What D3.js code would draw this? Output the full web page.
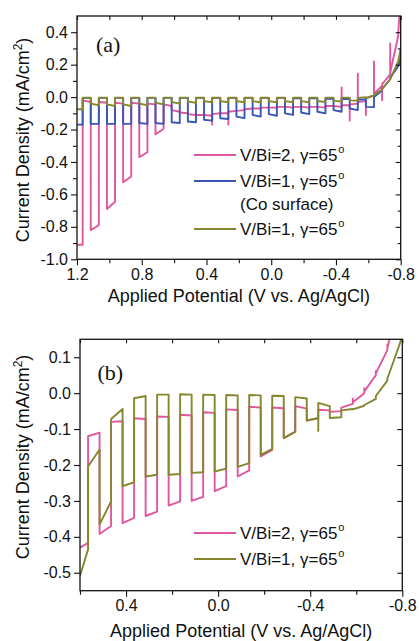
<!DOCTYPE html>
<html><head><meta charset="utf-8">
<script src="https://cdn.jsdelivr.net/npm/d3@7"></script>
<style>
html,body{margin:0;padding:0;background:#fff;}
svg{display:block;font-family:"Liberation Sans",Arial,Helvetica,sans-serif;}
</style></head><body>
<svg id="chart" width="419" height="641"></svg>
<script>
// ---------- Panel (a): chopped-light scans, light toggled every 0.05 V ----------
const chopA = [1.2, 1.165, 1.115, 1.065, 1.015, 0.965, 0.915, 0.865, 0.815, 0.765, 0.715,
  0.665, 0.615, 0.565, 0.515, 0.465, 0.415, 0.365, 0.315, 0.265, 0.215, 0.165, 0.115,
  0.065, 0.015, -0.035, -0.085, -0.135, -0.185, -0.235, -0.285, -0.335, -0.385, -0.435,
  -0.485, -0.535, -0.585, -0.635, -0.685, -0.735, -0.785, -0.8];

// current density at the start / end of each chop segment (mA/cm2)
const pinkA = [[-0.91,-0.91],[-0.02,-0.03],[-0.82,-0.79],[-0.03,-0.035],[-0.69,-0.645],
  [-0.035,-0.04],[-0.525,-0.49],[-0.035,-0.04],[-0.37,-0.34],[-0.04,-0.045],[-0.23,-0.195],
  [-0.045,-0.055],[-0.08,-0.09],[-0.095,-0.1],[-0.105,-0.11],[-0.11,-0.11],[-0.11,-0.115],
  [-0.105,-0.1],[-0.1,-0.1],[-0.09,-0.085],[-0.085,-0.08],[-0.075,-0.07],[-0.07,-0.07],
  [-0.065,-0.065],[-0.065,-0.065],[-0.06,-0.06],[-0.06,-0.065],[-0.06,-0.06],[-0.06,-0.065],
  [-0.06,-0.06],[-0.06,-0.065],[-0.055,-0.055],[-0.055,-0.06],[-0.05,-0.05],[-0.045,-0.04],
  [-0.03,-0.025],[-0.01,0.01],[0.02,0.07],[0.08,0.14],[0.15,0.38],[0.4,0.62]];
const pinkASpikes = [[0.365,-0.17],[0.265,-0.17],[-0.435,0.06],[-0.485,-0.145],[-0.535,0.145],
  [-0.585,-0.11],[-0.635,0.22],[-0.685,-0.02],[-0.735,0.33]];

const blueA = [[-0.17,-0.17],[-0.005,-0.005],[-0.165,-0.165],[-0.005,-0.005],[-0.165,-0.165],
  [-0.005,-0.005],[-0.165,-0.165],[-0.005,-0.005],[-0.16,-0.165],[-0.005,-0.005],[-0.16,-0.165],
  [-0.005,-0.005],[-0.155,-0.16],[-0.005,-0.005],[-0.15,-0.155],[-0.005,-0.005],[-0.14,-0.145],
  [-0.005,-0.005],[-0.13,-0.135],[-0.005,-0.005],[-0.12,-0.13],[-0.005,-0.005],[-0.11,-0.12],
  [-0.005,-0.005],[-0.105,-0.115],[-0.005,-0.005],[-0.1,-0.11],[-0.008,-0.008],[-0.095,-0.105],
  [-0.008,-0.008],[-0.09,-0.1],[-0.01,-0.01],[-0.08,-0.09],[-0.012,-0.012],[-0.07,-0.08],
  [-0.015,-0.015],[-0.06,-0.062],[0.0,0.04],[0.05,0.11],[0.12,0.19],[0.19,0.25]];

const oliveA = [[-0.075,-0.075],[-0.003,-0.003],[-0.04,-0.05],[-0.003,-0.003],[-0.045,-0.055],
  [-0.003,-0.003],[-0.045,-0.055],[-0.003,-0.003],[-0.04,-0.05],[-0.003,-0.003],[-0.035,-0.045],
  [-0.003,-0.003],[-0.03,-0.04],[-0.003,-0.003],[-0.028,-0.035],[-0.003,-0.003],[-0.025,-0.032],
  [-0.003,-0.003],[-0.025,-0.032],[-0.003,-0.003],[-0.025,-0.032],[-0.003,-0.003],[-0.025,-0.032],
  [-0.003,-0.003],[-0.025,-0.032],[-0.003,-0.003],[-0.025,-0.032],[-0.003,-0.003],[-0.025,-0.032],
  [-0.003,-0.003],[-0.024,-0.03],[-0.003,-0.003],[-0.022,-0.028],[-0.003,-0.003],[-0.02,-0.022],
  [-0.005,0.0],[-0.005,0.01],[0.015,0.045],[0.05,0.11],[0.11,0.22],[0.22,0.3]];

// ---------- Panel (b) ----------
const chopB = [0.6, 0.565, 0.515, 0.465, 0.415, 0.365, 0.315, 0.265, 0.215, 0.165, 0.115,
  0.065, 0.015, -0.035, -0.085, -0.135, -0.185, -0.235, -0.285, -0.335, -0.385, -0.435,
  -0.485, -0.535, -0.585, -0.635, -0.685, -0.735, -0.785, -0.8];

const pinkB = [[-0.43,-0.417],[-0.12,-0.11],[-0.392,-0.37],[-0.08,-0.078],[-0.362,-0.347],
  [-0.07,-0.072],[-0.342,-0.33],[-0.065,-0.066],[-0.313,-0.301],[-0.06,-0.062],[-0.3,-0.289],
  [-0.053,-0.055],[-0.273,-0.259],[-0.045,-0.047],[-0.232,-0.215],[-0.038,-0.04],[-0.176,-0.158],
  [-0.04,-0.042],[-0.125,-0.107],[-0.036,-0.043],[-0.076,-0.07],[-0.046,-0.048],[-0.052,-0.05],
  [-0.04,-0.03],[-0.025,0.0],[0.005,0.05],[0.055,0.12],[0.125,0.26],[0.26,0.32]];
const pinkBSpikes = [[-0.585,-0.015],[-0.635,0.014],[-0.685,0.062],[-0.735,0.135]];

const oliveB = [[-0.509,-0.435],[-0.204,-0.157],[-0.366,-0.301],[-0.072,-0.044],[-0.259,-0.248],
  [-0.014,-0.008],[-0.232,-0.227],[-0.004,-0.004],[-0.227,-0.225],[-0.003,-0.004],[-0.222,-0.22],
  [-0.004,-0.005],[-0.218,-0.21],[-0.005,-0.006],[-0.205,-0.195],[-0.005,-0.006],[-0.172,-0.155],
  [-0.007,-0.008],[-0.125,-0.108],[-0.011,-0.015],[-0.076,-0.069],[-0.027,-0.036],[-0.069,-0.067],
  [-0.048,-0.044],[-0.045,-0.035],[-0.033,-0.016],[-0.008,0.035],[0.04,0.13],[0.13,0.16]];
const oliveBSpikes = [[-0.435,-0.105]];

// axis ticks
const xMajorA = [1.2, 0.8, 0.4, 0.0, -0.4, -0.8];
const xMinorA = [1.0, 0.6, 0.2, -0.2, -0.6];
const yMajorA = [-1.0, -0.8, -0.6, -0.4, -0.2, 0.0, 0.2, 0.4];
const yMinorA = [-0.9, -0.7, -0.5, -0.3, -0.1, 0.1, 0.3];
const xMajorB = [0.4, 0.0, -0.4, -0.8];
const xMinorB = [0.6, 0.2, -0.2, -0.6];
const yMajorB = [-0.5, -0.4, -0.3, -0.2, -0.1, 0.0, 0.1];

const seriesNames = ["V/Bi=2, \u03B3=65", "V/Bi=1, \u03B3=65", "V/Bi=1, \u03B3=65"];
const colors = {pink: "#e2559f", blue: "#3b55b4", olive: "#85862e"};

const svg = d3.select("#chart");
const fmt = d => d.toFixed(1);

function buildPoints(bounds, levels, spikes) {
  const sp = new Map((spikes || []).map(s => [s[0], s[1]]));
  const pts = [];
  levels.forEach((lv, i) => {
    pts.push([bounds[i], lv[0]], [bounds[i + 1], lv[1]]);
    if (sp.has(bounds[i + 1])) pts.push([bounds[i + 1], sp.get(bounds[i + 1])]);
  });
  return pts;
}

function panel(cfg) {
  const {L, R, T, B, id} = cfg;
  const x = d3.scaleLinear().domain(cfg.xDomain).range([L, R]);
  const y = d3.scaleLinear().domain(cfg.yDomain).range([B, T]);
  const g = svg.append("g");

  g.append("clipPath").attr("id", id).append("rect")
    .attr("x", L).attr("y", T).attr("width", R - L).attr("height", B - T);

  const line = d3.line().x(d => x(d[0])).y(d => y(d[1]));
  const plot = g.append("g").attr("clip-path", `url(#${id})`);
  cfg.series.forEach(s => {
    plot.append("path").attr("d", line(buildPoints(s.bounds, s.levels, s.spikes)))
      .attr("fill", "none").attr("stroke", s.color).attr("stroke-width", 1.9)
      .attr("stroke-linejoin", "round");
  });

  const styleAxis = sel => {
    sel.select(".domain").remove();
    sel.selectAll("line").attr("stroke", "#111").attr("stroke-width", 1.1);
    sel.selectAll("text").attr("font-size", 16).attr("fill", "#111")
      .attr("font-family", "'Liberation Sans',Arial,sans-serif");
  };
  // labelled axes
  g.append("g").attr("transform", `translate(0,${B})`)
    .call(d3.axisBottom(x).tickValues(cfg.xMajor).tickSize(6).tickPadding(3).tickFormat(fmt)).call(styleAxis);
  g.append("g").attr("transform", `translate(0,${B})`)
    .call(d3.axisBottom(x).tickValues(cfg.xMinor).tickSize(4).tickFormat("")).call(styleAxis);
  g.append("g").attr("transform", `translate(${L},0)`)
    .call(d3.axisLeft(y).tickValues(cfg.yMajor).tickSize(6).tickPadding(3).tickFormat(fmt)).call(styleAxis);
  if (cfg.yMinor.length)
    g.append("g").attr("transform", `translate(${L},0)`)
      .call(d3.axisLeft(y).tickValues(cfg.yMinor).tickSize(4).tickFormat("")).call(styleAxis);
  // mirrored inner ticks
  g.append("g").attr("transform", `translate(0,${T})`)
    .call(d3.axisTop(x).tickValues(cfg.xMajor.concat(cfg.xMinor)).tickSize(-4).tickFormat("")).call(styleAxis);
  g.append("g").attr("transform", `translate(${R},0)`)
    .call(d3.axisRight(y).tickValues(cfg.yMajor).tickSize(-5).tickFormat("")).call(styleAxis);
  if (cfg.yMinor.length)
    g.append("g").attr("transform", `translate(${R},0)`)
      .call(d3.axisRight(y).tickValues(cfg.yMinor).tickSize(-3).tickFormat("")).call(styleAxis);

  g.append("rect").attr("x", L).attr("y", T).attr("width", R - L).attr("height", B - T)
    .attr("fill", "none").attr("stroke", "#111").attr("stroke-width", 1.3);

  // panel tag
  g.append("text").attr("x", cfg.tag[1]).attr("y", cfg.tag[2]).text(cfg.tag[0])
    .attr("font-family", "'Liberation Serif','Times New Roman',serif").attr("font-size", 22).attr("fill", "#111");

  // axis titles
  g.append("text").attr("x", (L + R) / 2).attr("y", cfg.xTitleY).attr("text-anchor", "middle")
    .attr("font-size", 18).attr("fill", "#111").text("Applied Potential (V vs. Ag/AgCl)");
  const yt = g.append("text").attr("transform", `translate(29,${cfg.yTitleMid}) rotate(-90)`)
    .attr("text-anchor", "middle").attr("font-size", 18).attr("fill", "#111");
  yt.append("tspan").text("Current Density (mA/cm");
  yt.append("tspan").text("2").attr("font-size", 12).attr("dy", -7);
  yt.append("tspan").text(")").attr("font-size", 18).attr("dy", 7);

  // legend
  cfg.legend.forEach(e => {
    g.append("line").attr("x1", 194).attr("x2", 236).attr("y1", e.y).attr("y2", e.y)
      .attr("stroke", e.color).attr("stroke-width", 2);
    const t = g.append("text").attr("x", 240).attr("y", e.y + 6).attr("font-size", 17).attr("fill", "#111");
    t.append("tspan").text(e.label);
    t.append("tspan").text("o").attr("font-size", 11).attr("dy", -8).attr("dx", 1);
    if (e.note) g.append("text").attr("x", 240).attr("y", e.y + 29).attr("font-size", 17)
      .attr("fill", "#111").text(e.note);
  });
}

panel({
  id: "clipA", L: 77, R: 400.7, T: 16, B: 259.3,
  xDomain: [1.2, -0.8], yDomain: [-1.0, 0.5],
  xMajor: xMajorA, xMinor: xMinorA, yMajor: yMajorA, yMinor: yMinorA,
  tag: ["(a)", 96, 52], xTitleY: 302, yTitleMid: 140,
  series: [
    {bounds: chopA, levels: pinkA, spikes: pinkASpikes, color: colors.pink},
    {bounds: chopA, levels: blueA, color: colors.blue},
    {bounds: chopA, levels: oliveA, color: colors.olive}
  ],
  legend: [
    {y: 155, color: colors.pink, label: seriesNames[0]},
    {y: 181, color: colors.blue, label: seriesNames[1], note: "(Co surface)"},
    {y: 229, color: colors.olive, label: seriesNames[2]}
  ]
});

panel({
  id: "clipB", L: 80, R: 402.3, T: 339.3, B: 590.7,
  xDomain: [0.6, -0.8], yDomain: [-0.55, 0.15],
  xMajor: xMajorB, xMinor: xMinorB, yMajor: yMajorB, yMinor: [],
  tag: ["(b)", 97.5, 380], xTitleY: 637, yTitleMid: 457,
  series: [
    {bounds: chopB, levels: pinkB, spikes: pinkBSpikes, color: colors.pink},
    {bounds: chopB, levels: oliveB, spikes: oliveBSpikes, color: colors.olive}
  ],
  legend: [
    {y: 533, color: colors.pink, label: seriesNames[0]},
    {y: 559, color: colors.olive, label: seriesNames[2]}
  ]
});
</script></body></html>
